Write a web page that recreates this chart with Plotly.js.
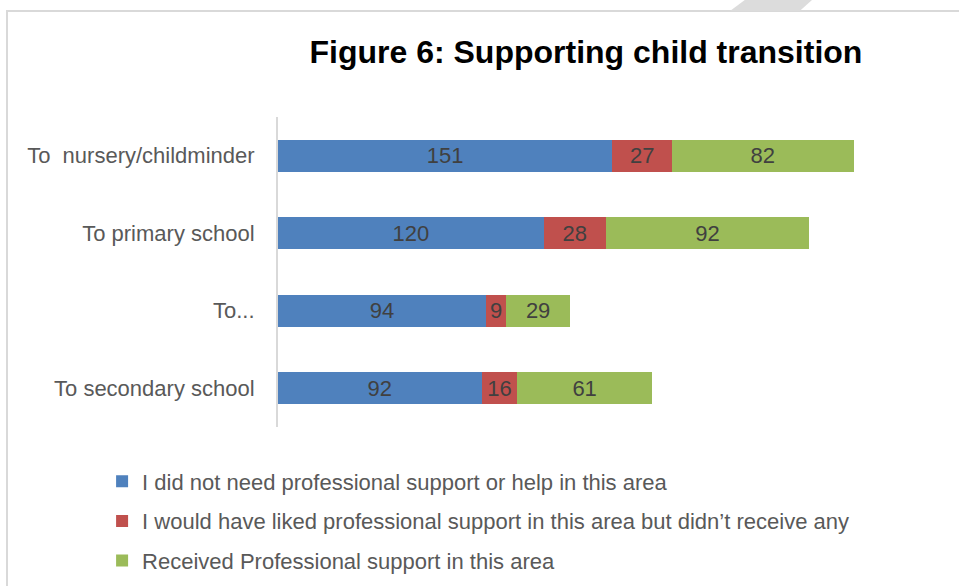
<!DOCTYPE html>
<html>
<head>
<meta charset="utf-8">
<script src="https://cdn.plot.ly/plotly-3.0.1.min.js"></script>
<style>
  html, body { margin: 0; padding: 0; background: #ffffff; }
  #wrap { position: relative; width: 959px; height: 586px; overflow: hidden; }
  #frameTop { position: absolute; left: 6px; top: 10px; width: 953px; height: 2px; background: #d9d9d9; }
  #frameLeft { position: absolute; left: 6px; top: 10px; width: 2px; height: 576px; background: #d9d9d9; }
  #mark { position: absolute; left: 730px; top: 0px; width: 82px; height: 11px; background: #dcdcdc;
          clip-path: polygon(18% 0, 100% 0, 85% 100%, 0 100%); }
  #chart { position: absolute; left: 0; top: 0; width: 959px; height: 586px; }
</style>
</head>
<body>
<div id="wrap">
  <div id="frameTop"></div>
  <div id="frameLeft"></div>
  <div id="mark"></div>
  <div id="chart"></div>
</div>
<script>
const categories = ["To  nursery/childminder", "To primary school", "To...", "To secondary school"];
const seriesNames = [
  "I did not need professional support or help in this area",
  "I would have liked professional support in this area but didn\u2019t receive any",
  "Received Professional support in this area"
];
const notNeeded = [151, 120, 94, 92];
const wantedNotReceived = [27, 28, 9, 16];
const received = [82, 92, 29, 61];
const colors = ["#4F81BD", "#C0504D", "#9BBB59"];

const FONT = "Liberation Sans, Arial, sans-serif";
const values = [notNeeded, wantedNotReceived, received];

const traces = values.map((v, i) => ({
  type: "bar",
  orientation: "h",
  name: seriesNames[i],
  legendgroup: "g" + i,
  x: v,
  y: categories,
  text: v.map(String),
  textposition: "inside",
  insidetextanchor: "middle",
  constraintext: "none",
  textfont: { family: FONT, size: 22, color: "#404040" },
  marker: { color: colors[i], line: { width: 0 } },
  hoverinfo: "x+y+name"
}));

const layout = {
  width: 959,
  height: 586,
  barmode: "stack",
  bargap: 0.587,
  paper_bgcolor: "rgba(0,0,0,0)",
  plot_bgcolor: "rgba(0,0,0,0)",
  margin: { l: 278, r: 39, t: 117, b: 159, pad: 0, autoexpand: false },
  font: { family: FONT, color: "#595959" },
  title: {
    text: "<b>Figure 6: Supporting child transition</b>",
    font: { family: FONT, size: 32, color: "#000000" },
    x: 0.611, xanchor: "center", xref: "container",
    y: 0.911, yanchor: "middle", yref: "container"
  },
  xaxis: {
    range: [0, 290],
    showgrid: false, zeroline: false, showline: false,
    showticklabels: false, ticks: ""
  },
  yaxis: {
    autorange: "reversed",
    showgrid: false, zeroline: false,
    showline: true, linecolor: "#d9d9d9", linewidth: 2,
    ticks: "",
    ticklabelstandoff: 17,
    tickfont: { family: FONT, size: 22, color: "#595959" }
  },
  showlegend: true,
  legend: {
    x: -0.274, xanchor: "left",
    y: -0.108, yanchor: "top",
    orientation: "v",
    traceorder: "grouped",
    tracegroupgap: 8,
    font: { family: FONT, size: 22, color: "#595959" },
    bgcolor: "rgba(0,0,0,0)"
  }
};

Plotly.newPlot("chart", traces, layout, { displayModeBar: false, staticPlot: true });
</script>
</body>
</html>
